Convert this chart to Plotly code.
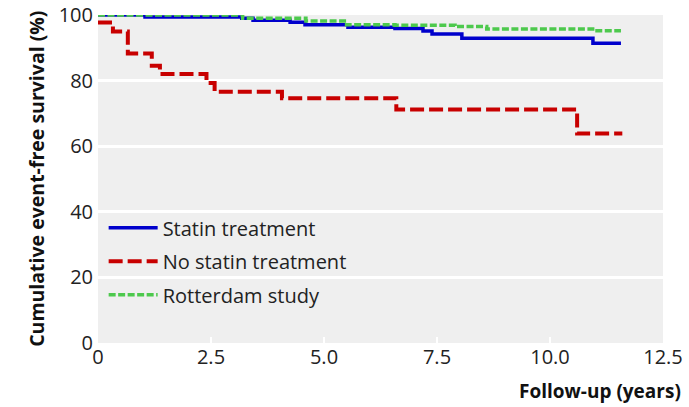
import plotly.graph_objects as go

# Statin treatment (Kaplan-Meier steps)
statin_x = [0, 1.04, 3.18, 3.43, 4.25, 4.58, 5.53, 6.57, 7.19, 7.39, 8.05, 10.95, 11.57]
statin_y = [100, 99.4, 99.0, 98.4, 97.8, 97.0, 96.3, 95.9, 95.1, 94.2, 92.9, 91.4, 91.4]

# No statin treatment
nostatin_x = [0, 0.33, 0.66, 1.19, 1.37, 2.4, 2.58, 4.07, 6.6, 10.6, 11.6]
nostatin_y = [97.7, 95.0, 88.3, 84.5, 82.0, 79.3, 76.6, 74.6, 71.2, 63.9, 63.9]

# Rotterdam study
rotterdam_x = [0, 3.2, 4.6, 5.5, 6.57, 7.9, 8.6, 11.0, 11.57]
rotterdam_y = [100, 99.0, 98.2, 97.0, 96.9, 96.5, 95.7, 95.2, 95.2]

x_ticks = [0, 2.5, 5.0, 7.5, 10.0, 12.5]
x_tick_labels = ["0", "2.5", "5.0", "7.5", "10.0", "12.5"]
y_ticks = [0, 20, 40, 60, 80, 100]

FONT = "Open Sans"
TXT = "#222222"

fig = go.Figure()
fig.add_trace(go.Scatter(x=statin_x, y=statin_y, mode="lines", line_shape="hv",
                         name="Statin treatment", legendgroup="a",
                         line=dict(color="#0000cc", width=3.5)))
fig.add_trace(go.Scatter(x=nostatin_x, y=nostatin_y, mode="lines", line_shape="hv",
                         name="No statin treatment", legendgroup="b",
                         line=dict(color="#c80000", width=4, dash="14px,5px")))
fig.add_trace(go.Scatter(x=rotterdam_x, y=rotterdam_y, mode="lines", line_shape="hv",
                         name="Rotterdam study", legendgroup="c",
                         line=dict(color="#4dc94d", width=3.5, dash="7px,2.5px")))

fig.update_layout(
    width=689, height=407,
    margin=dict(l=98, r=26, t=15, b=64, autoexpand=False),
    paper_bgcolor="white",
    plot_bgcolor="#efefef",
    font=dict(family=FONT, size=20, color=TXT),
    showlegend=True,
    legend=dict(x=0.01, y=0.411, xanchor="left", yanchor="top",
                bgcolor="rgba(0,0,0,0)", tracegroupgap=4.5,
                font=dict(family=FONT, size=20, color=TXT),
                itemwidth=49),
    xaxis=dict(range=[0, 12.5], tickvals=x_ticks, ticktext=x_tick_labels,
               showgrid=False, zeroline=False, showline=False, automargin=False,
               ticks="inside", ticklen=6, tickwidth=2, tickcolor="white",
               tickfont=dict(family=FONT, size=20, color=TXT)),
    yaxis=dict(range=[0, 100], tickvals=y_ticks, automargin=False,
               showgrid=True, gridcolor="white", gridwidth=2.5,
               zeroline=False, showline=False, ticks="", ticklabelstandoff=4,
               tickfont=dict(family=FONT, size=20, color=TXT)),
    annotations=[
        dict(text="<b>Follow-up (years)</b>", xref="paper", yref="paper",
             x=1.035, y=-0.146, xanchor="right", yanchor="middle", showarrow=False,
             font=dict(family=FONT, size=19, color="#111111")),
        dict(text="<b>Cumulative event-free survival (%)</b>", xref="paper", yref="paper",
             x=-0.11, y=0.5, xanchor="center", yanchor="middle", showarrow=False,
             textangle=-90, font=dict(family=FONT, size=19.5, color="#111111")),
    ],
)

fig.write_html("out.html", config={"displayModeBar": False},
               post_script="document.body.style.margin='0';")
